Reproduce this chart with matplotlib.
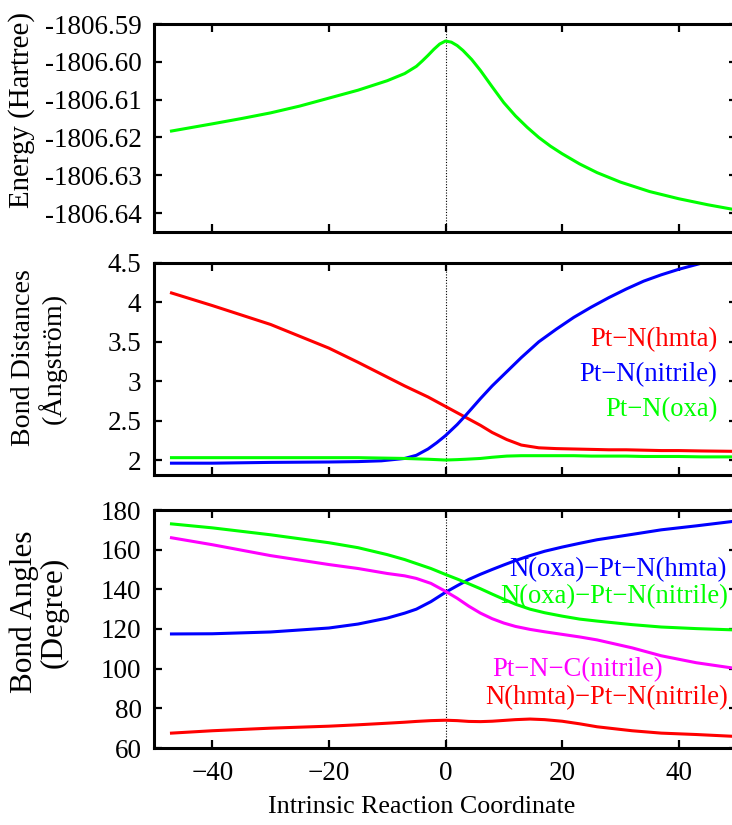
import numpy as np
import matplotlib
matplotlib.use("Agg")
import matplotlib.pyplot as plt

plt.rcParams['font.family'] = ['Liberation Serif', 'DejaVu Serif']

# --- energy along the IRC ---
irc_e = [-47, -40, -35, -30, -25, -20, -15, -13, -10, -7, -5, -4, -3, -2,
         -1, 0, 1, 2, 3, 4.5, 6, 8, 10, 12, 14, 16, 18, 20, 23, 26, 30,
         35, 40, 45, 50]
energy = [-1806.6183, -1806.6164, -1806.6150, -1806.6135, -1806.6117,
          -1806.6096, -1806.6075, -1806.6065, -1806.6050, -1806.6031,
          -1806.6012, -1806.5998, -1806.5983, -1806.5967, -1806.5953,
          -1806.5945, -1806.5948, -1806.5957, -1806.5970, -1806.5994,
          -1806.6023, -1806.6066, -1806.6108, -1806.6143, -1806.6173,
          -1806.6200, -1806.6223, -1806.6243, -1806.6270, -1806.6293,
          -1806.6318, -1806.6343, -1806.6362, -1806.6378, -1806.6392]

# --- bond distances ---
irc_d = [-47, -40, -30, -20, -15, -11, -7, -5, -3, -1.5, 0, 2, 3.5, 6,
         8, 10.5, 13, 16, 19, 22, 25, 28, 31, 34, 37, 40, 44, 50]
pt_n_hmta = [4.12, 3.96, 3.72, 3.42, 3.24, 3.09, 2.94, 2.87, 2.80, 2.74,
             2.68, 2.60, 2.54, 2.44, 2.35, 2.26, 2.19, 2.155, 2.145, 2.14,
             2.135, 2.13, 2.13, 2.125, 2.12, 2.12, 2.115, 2.11]
pt_n_nitrile = [1.96, 1.96, 1.97, 1.975, 1.98, 1.99, 2.02, 2.06, 2.14,
                2.22, 2.31, 2.45, 2.57, 2.78, 2.94, 3.12, 3.30, 3.50,
                3.66, 3.81, 3.94, 4.06, 4.17, 4.27, 4.35, 4.42, 4.50, 4.60]
pt_n_oxa = [2.03, 2.03, 2.03, 2.03, 2.03, 2.025, 2.02, 2.015, 2.01, 2.005,
            2.0, 2.005, 2.01, 2.02, 2.035, 2.05, 2.055, 2.055, 2.055, 2.055,
            2.05, 2.05, 2.05, 2.045, 2.045, 2.045, 2.04, 2.04]

# --- bond angles ---
irc_a = [-47, -40, -30, -20, -15, -10, -7, -5, -2.5, 0, 2, 4, 6, 8, 10,
         12, 14.5, 17, 20, 23, 26, 32, 37, 43, 50]
oxa_pt_hmta = [117.5, 117.6, 118.5, 120.5, 122.5, 125.5, 128, 130, 133.8,
               138.5, 141.8, 145, 147.6, 150, 152.3, 154.5, 157, 159.2,
               161.3, 163.2, 165, 167.7, 170, 172, 174.5]
oxa_pt_nitrile = [173, 171, 167.5, 163.5, 161, 157.5, 155, 153, 150.5,
                  147.5, 145.2, 142.8, 140.3, 137.6, 135, 132.5, 130, 128.2,
                  126.5, 125, 124, 122.2, 121, 120.2, 119.5]
pt_n_c = [166, 162.5, 157, 152.5, 150.5, 148, 146.8, 145.5, 143, 139,
          135.5, 131.5, 128, 125.2, 123, 121.3, 119.8, 118.6, 117.3, 116,
          114.5, 110.5, 106.5, 103, 100]
hmta_pt_nitrile = [67.5, 68.7, 70, 71, 71.7, 72.5, 73, 73.4, 73.8, 74,
                   73.8, 73.4, 73.3, 73.5, 73.9, 74.3, 74.6, 74.3, 73.5,
                   72.2, 70.7, 68.7, 67.5, 66.8, 65.8]

e_ticks = [-1806.59, -1806.60, -1806.61, -1806.62, -1806.63, -1806.64]
e_labels = ['-1806.59', '-1806.60', '-1806.61', '-1806.62', '-1806.63',
            '-1806.64']
d_ticks = [2, 2.5, 3, 3.5, 4, 4.5]
d_labels = ['2', '2.5', '3', '3.5', '4', '4.5']
a_ticks = [60, 80, 100, 120, 140, 160, 180]
x_ticks = [-40, -20, 0, 20, 40]

GREEN = '#00ff00'
RED = '#ff0000'
BLUE = '#0000ff'
MAGENTA = '#ff00ff'
FS = 19.5      # tick labels
FS_C = 19.2    # curve labels
FS_X = 18.7    # x axis title
LW = 2.2

W, H = 732, 825
fig = plt.figure(figsize=(W / 100, H / 100), dpi=100)


def box(top, bottom, left=154, right=737):
    return [left / W, 1 - bottom / H, (right - left) / W, (bottom - top) / H]


ax1 = fig.add_axes(box(24, 232))
ax2 = fig.add_axes(box(263, 475))
ax3 = fig.add_axes(box(510, 748))

for ax in (ax1, ax2, ax3):
    ax.set_xlim(-50, 50)
    ax.set_xticks(x_ticks)
    ax.axvline(0, color='k', lw=0.8, ls=(0, (1, 1.5)), zorder=1)
    ax.tick_params(direction='in', top=True, right=True, length=6,
                   width=1.6, labelsize=FS, pad=9)
    for s in ax.spines.values():
        s.set_linewidth(2.2)

ax1.plot(irc_e, energy, color=GREEN, lw=LW)
ax1.set_ylim(-1806.645, -1806.59)
ax1.set_yticks(e_ticks)
ax1.set_yticklabels(e_labels)
ax1.set_xticklabels([])

ax2.plot(irc_d, pt_n_hmta, color=RED, lw=LW)
ax2.plot(irc_d, pt_n_nitrile, color=BLUE, lw=LW)
ax2.plot(irc_d, pt_n_oxa, color=GREEN, lw=LW)
ax2.set_ylim(1.81, 4.5)
ax2.set_yticks(d_ticks)
ax2.set_yticklabels(d_labels)
ax2.set_xticklabels([])

ax2.text(0.966, 0.637, 'Pt\u2212N(hmta)', color=RED, fontsize=FS_C,
         ha='right', va='center', transform=ax2.transAxes)
ax2.text(0.966, 0.472, 'Pt\u2212N(nitrile)', color=BLUE, fontsize=FS_C,
         ha='right', va='center', transform=ax2.transAxes)
ax2.text(0.966, 0.308, 'Pt\u2212N(oxa)', color=GREEN, fontsize=FS_C,
         ha='right', va='center', transform=ax2.transAxes)

ax3.plot(irc_a, oxa_pt_hmta, color=BLUE, lw=LW)
ax3.plot(irc_a, oxa_pt_nitrile, color=GREEN, lw=LW)
ax3.plot(irc_a, pt_n_c, color=MAGENTA, lw=LW)
ax3.plot(irc_a, hmta_pt_nitrile, color=RED, lw=LW)
ax3.set_ylim(60, 180)
ax3.set_yticks(a_ticks)

ax3.text(0.983, 0.748, 'N(oxa)\u2212Pt\u2212N(hmta)', color=BLUE,
         fontsize=FS_C, ha='right', va='center', transform=ax3.transAxes)
ax3.text(0.985, 0.636, 'N(oxa)\u2212Pt\u2212N(nitrile)', color=GREEN,
         fontsize=FS_C, ha='right', va='center', transform=ax3.transAxes)
ax3.text(0.873, 0.328, 'Pt\u2212N\u2212C(nitrile)', color=MAGENTA,
         fontsize=FS_C, ha='right', va='center', transform=ax3.transAxes)
ax3.text(0.985, 0.21, 'N(hmta)\u2212Pt\u2212N(nitrile)', color=RED,
         fontsize=FS_C, ha='right', va='center', transform=ax3.transAxes)

fig.text(22 / W, 1 - 110 / H, 'Energy (Hartree)', rotation=90,
         ha='center', va='center', fontsize=20.8)
fig.text(39 / W, 1 - 358 / H, 'Bond Distances\n(\u00c5ngstr\u00f6m)',
         rotation=90, ha='center', va='center', multialignment='center',
         fontsize=20.2, linespacing=1.1)
fig.text(39 / W, 1 - 612 / H, 'Bond Angles\n(Degree)', rotation=90,
         ha='center', va='center', multialignment='center', fontsize=22.5,
         linespacing=1.0)
fig.text(422 / W, 1 - 807 / H, 'Intrinsic Reaction Coordinate',
         ha='center', va='center', fontsize=FS_X)

fig.savefig('out.png', dpi=100)
